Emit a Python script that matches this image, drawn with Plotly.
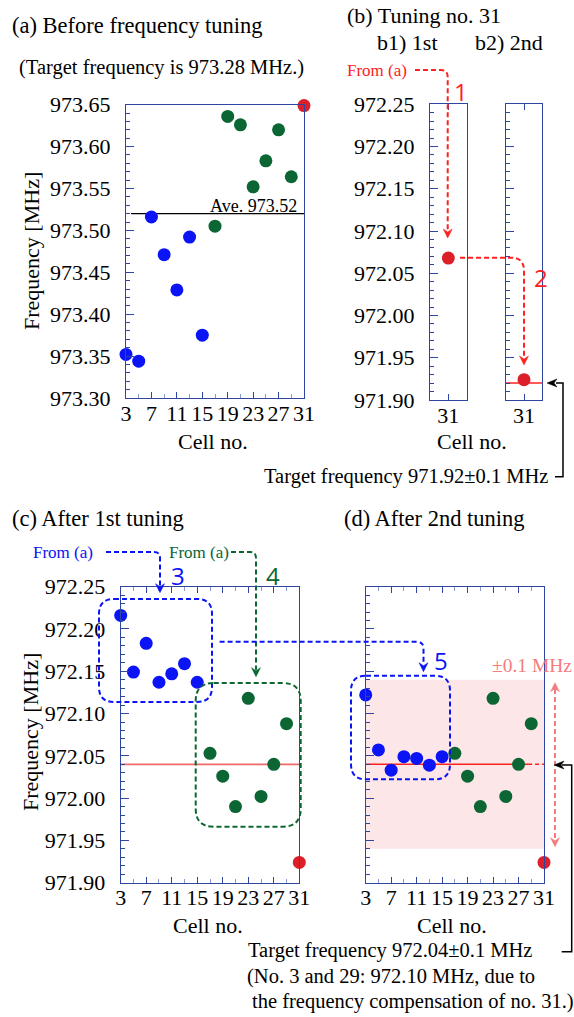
import plotly.graph_objects as go

# ---------------- data ----------------
cells = [3, 5, 7, 9, 11, 13, 15, 17, 19, 21, 23, 25, 27, 29, 31]
blue_cells = [3, 5, 7, 9, 11, 13, 15]
green_cells = [17, 19, 21, 23, 25, 27, 29]
red_cell = [31]
cell_ticks = [3, 7, 11, 15, 19, 23, 27, 31]

# (a) before tuning
a_blue = [973.352, 973.344, 973.516, 973.471, 973.429, 973.492, 973.375]
a_green = [973.505, 973.636, 973.626, 973.552, 973.583, 973.620, 973.564]
a_red = [973.649]
a_average = 973.52

# (b) tuning of no. 31
b1_red = [972.068]
b2_red = [971.924]
b_target = 971.92

# (c) after 1st tuning
c_blue = [972.216, 972.149, 972.183, 972.137, 972.147, 972.159, 972.137]
c_green = [972.053, 972.026, 971.990, 972.118, 972.002, 972.040, 972.088]
c_red = [971.924]
cd_target = 972.04
tolerance = 0.1

# (d) after 2nd tuning
d_blue = [972.122, 972.057, 972.033, 972.049, 972.047, 972.039, 972.049]
d_green = [972.053, 972.026, 971.990, 972.118, 972.002, 972.040, 972.088]
d_red = [971.924]

# ---------------- style ----------------
W, H = 574, 1017
SERIF = "Liberation Serif"
SANS = "Open Sans"
AX = "#2e46a0"
AXL = "#8a9ad0"
BLUE = "#0a14f5"
GREEN = "#0b6633"
RED = "#dd1f2a"
SALMON = "#f26a6a"
PINK = "#f47c7c"
MS = 13


def X(px):
    return px / W


def Y(py):
    return 1 - py / H


def P(x, y):
    return f"{X(x):.5f},{Y(y):.5f}"


fig = go.Figure()


def pts(xs, ys, color, xa, ya):
    fig.add_trace(go.Scatter(x=xs, y=ys, mode="markers", xaxis=xa, yaxis=ya,
                             marker=dict(size=MS, color=color), cliponaxis=False,
                             hoverinfo="skip"))


def hline(x0, x1, yv, color, xa, ya, width=1.3, dash="solid"):
    fig.add_trace(go.Scatter(x=[x0, x1], y=[yv, yv], mode="lines", xaxis=xa, yaxis=ya,
                             line=dict(color=color, width=width, dash=dash),
                             cliponaxis=False, hoverinfo="skip"))


# (a)
hline(3.8, 31, a_average, "black", "x", "y", 1.2)
pts(blue_cells, a_blue, BLUE, "x", "y")
pts(green_cells, a_green, GREEN, "x", "y")
pts(red_cell, a_red, RED, "x", "y")
# (b)
pts(red_cell, b1_red, RED, "x2", "y2")
hline(30, 32, b_target, "#ff2020", "x3", "y3", 1.5)
pts(red_cell, b2_red, RED, "x3", "y3")
# (c)
hline(3, 31, cd_target, SALMON, "x4", "y4", 1.8)
pts(blue_cells, c_blue, BLUE, "x4", "y4")
pts(green_cells, c_green, GREEN, "x4", "y4")
pts(red_cell, c_red, RED, "x4", "y4")
# (d)
hline(3, 28.5, cd_target, "#ff2020", "x5", "y5", 1.5)
hline(28.5, 31, cd_target, "#ff2020", "x5", "y5", 1.5, "4px,3px")
pts(blue_cells, d_blue, BLUE, "x5", "y5")
pts(green_cells, d_green, GREEN, "x5", "y5")
pts(red_cell, d_red, RED, "x5", "y5")

tickfont = dict(family=SERIF, size=22, color="black")


def xaxis(dom, rng, tickvals, mirror, showlabels=True, minor=True):
    d = dict(domain=[X(dom[0]), X(dom[1])], range=rng, tickvals=tickvals,
             ticks="inside", ticklen=6, tickcolor=AX, showgrid=False, zeroline=False,
             showline=True, linecolor=AX, linewidth=1.2, mirror=mirror,
             tickfont=tickfont, showticklabels=showlabels, ticklabelstandoff=-5,
             fixedrange=True, automargin=False)
    if minor:
        d["minor"] = dict(dtick=2, tick0=3, ticks="inside", ticklen=4, tickcolor=AXL)
    return d


def yaxis(dom, rng, showlabels=True, mirror=True):
    return dict(domain=[Y(dom[1]), Y(dom[0])], range=rng, dtick=0.05, tick0=rng[0],
                tickformat=".2f", ticks="inside", ticklen=8, tickcolor=AX,
                minor=dict(dtick=0.01, ticks="inside", ticklen=4, tickcolor=AX),
                showgrid=False, zeroline=False, showline=True, linecolor=AX,
                linewidth=1.2, mirror=mirror, tickfont=tickfont,
                showticklabels=showlabels, ticklabelstandoff=10, fixedrange=True,
                automargin=False)


ra = [973.30, 973.65]
rc = [971.90, 972.25]
fig.update_layout(
    xaxis=xaxis((126, 304), [3, 31], cell_ticks, True),
    yaxis=yaxis((104.7, 398), ra),
    xaxis2=dict(xaxis((430, 466.7), [30, 32], red_cell, "ticks", minor=False), anchor="y2"),
    yaxis2=dict(yaxis((104.3, 400), rc), anchor="x2"),
    xaxis3=dict(xaxis((505.7, 542.3), [30, 32], red_cell, "ticks", minor=False), anchor="y3"),
    yaxis3=dict(yaxis((104.3, 400), rc, showlabels=False), anchor="x3"),
    xaxis4=dict(xaxis((120.7, 299.3), [3, 31], cell_ticks, "ticks"), anchor="y4"),
    yaxis4=dict(yaxis((586.7, 882.7), rc), anchor="x4"),
    xaxis5=dict(xaxis((365.7, 544), [3, 31], cell_ticks, "ticks"), anchor="y5"),
    yaxis5=dict(yaxis((586.7, 882.7), rc, showlabels=False), anchor="x5"),
)

shapes = []
shapes.append(dict(type="rect", xref="x5", yref="y5", x0=3, x1=31,
                   y0=cd_target - tolerance, y1=cd_target + tolerance,
                   fillcolor="#fde6e7", line=dict(width=0), layer="below"))


def path_shape(d, color, dash="5px,3px", width=2, fill=None):
    s = dict(type="path", xref="paper", yref="paper", path=d,
             line=dict(color=color, width=width if fill is None else 0.5, dash=dash if fill is None else "solid"))
    if fill:
        s["fillcolor"] = fill
    shapes.append(s)


def head(x, y, direction, color, L=9, w=4.5):
    if direction == "down":
        d = f"M{P(x, y)} L{P(x - w, y - L)} L{P(x, y - L + 3)} L{P(x + w, y - L)} Z"
    elif direction == "up":
        d = f"M{P(x, y)} L{P(x - w, y + L)} L{P(x, y + L - 3)} L{P(x + w, y + L)} Z"
    else:
        d = f"M{P(x, y)} L{P(x + L, y - w)} L{P(x + L - 3, y)} L{P(x + L, y + w)} Z"
    path_shape(d, color, fill=color)


def elbow(x0, y0, xc, y1, r, color, dash="5px,3px"):
    d = f"M{P(x0, y0)} L{P(xc - r, y0)} Q{P(xc, y0)} {P(xc, y0 + r)} L{P(xc, y1 - 7)}"
    path_shape(d, color, dash)
    head(xc, y1, "down", color)


def rbox(x0, y0, x1, y1, r, color):
    d = (f"M{P(x0 + r, y0)} L{P(x1 - r, y0)} Q{P(x1, y0)} {P(x1, y0 + r)} "
         f"L{P(x1, y1 - r)} Q{P(x1, y1)} {P(x1 - r, y1)} L{P(x0 + r, y1)} "
         f"Q{P(x0, y1)} {P(x0, y1 - r)} L{P(x0, y0 + r)} Q{P(x0, y0)} {P(x0 + r, y0)} Z")
    path_shape(d, color, "5px,3px", 2)


elbow(415, 70, 447.7, 238, 7, "#ff2020")
elbow(460, 257.7, 524, 365, 13, "#ff2020")
elbow(106, 552, 160, 592.7, 6, BLUE)
elbow(231, 552, 256, 676.7, 6, GREEN)
elbow(219.6, 641.7, 423.5, 671.7, 7, BLUE)
rbox(99, 599, 212, 702, 15, BLUE)
rbox(195.7, 683, 300.7, 826.7, 18, GREEN)
rbox(351, 675.7, 450, 779.3, 15, BLUE)
path_shape(f"M{P(555, 689)} L{P(555, 840)}", PINK, "5px,3px", 2)
head(555, 682.7, "up", PINK)
head(555, 846.7, "down", PINK)
path_shape(f"M{P(555, 476.7)} L{P(563, 476.7)} L{P(563, 383)} L{P(556, 383)}", "black", "solid", 1.5)
head(547, 383, "left", "black", L=10, w=4)
path_shape(f"M{P(561.7, 951.7)} L{P(571.7, 951.7)} L{P(571.7, 765)} L{P(562, 765)}", "black", "solid", 1.5)
head(554, 765, "left", "black", L=10, w=4)

fig.update_layout(shapes=shapes)

ann = []


def text(x, y, s, size=22, color="black", anchor="left", family=SERIF, angle=0):
    ann.append(dict(x=X(x), y=Y(y), xref="paper", yref="paper", text=s, showarrow=False,
                    xanchor=anchor, yanchor="middle", textangle=angle,
                    font=dict(family=family, size=size, color=color)))


text(10, 26, "(a) Before frequency tuning", 22.5)
text(17, 68, "(Target frequency is 973.28 MHz.)", 20.5)
text(345, 16, "(b) Tuning no. 31", 22)
text(375, 42, "b1) 1st", 22)
text(473, 42, "b2) 2nd", 22)
text(345, 70, "From (a)", 17, "#ff2020")
text(461, 92, "1", 24, "#ff2020", "center", SANS)
text(541, 277, "2", 24, "#ff2020", "center", SANS)
text(299, 206, "Ave. 973.52", 18, "black", "right")
text(32, 251, "Frequency [MHz]", 22, angle=-90, anchor="center")
text(213, 441.7, "Cell no.", 22, anchor="center")
text(471.7, 441.7, "Cell no.", 22, anchor="center")
text(550, 476.7, "Target frequency 971.92±0.1 MHz", 20.5, anchor="right")

text(10, 518, "(c) After 1st tuning", 22.5)
text(342, 518, "(d) After 2nd tuning", 22.5)
text(31, 552, "From (a)", 17, BLUE)
text(166.5, 552, "From (a)", 17, GREEN)
text(178, 575, "3", 24, BLUE, "center", SANS)
text(273, 575, "4", 24, GREEN, "center", SANS)
text(441, 660, "5", 24, BLUE, "center", SANS)
text(490, 665, "±0.1 MHz", 19.5, PINK)
text(30, 732, "Frequency [MHz]", 22, angle=-90, anchor="center")
text(208, 925, "Cell no.", 22, anchor="center")
text(452, 925, "Cell no.", 22, anchor="center")
text(246, 950, "Target frequency 972.04±0.1 MHz", 20.5)
text(245, 976, "(No. 3 and 29: 972.10 MHz, due to", 20.5)
text(250, 1001, "the frequency compensation of no. 31.)", 20.5)

fig.update_layout(annotations=ann, width=W, height=H,
                  margin=dict(l=0, r=0, t=0, b=0, pad=0, autoexpand=False),
                  paper_bgcolor="white", plot_bgcolor="white", showlegend=False)

fig.write_html("out.html")
